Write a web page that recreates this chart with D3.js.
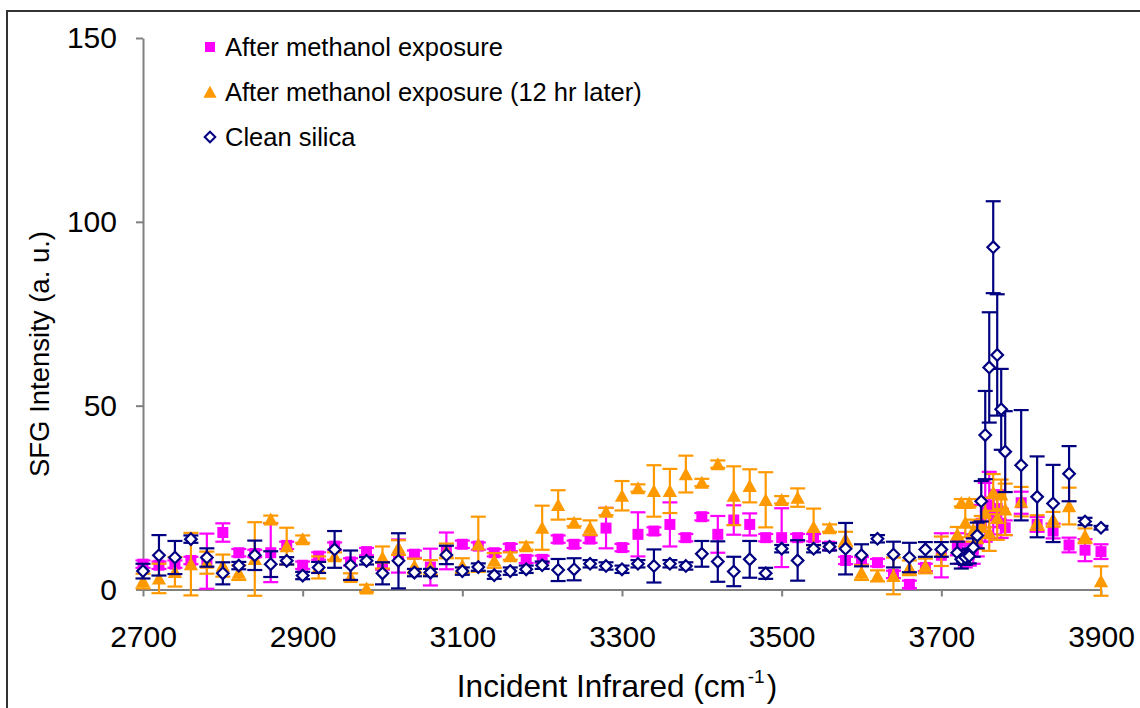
<!DOCTYPE html>
<html>
<head>
<meta charset="utf-8">
<script src="https://cdn.jsdelivr.net/npm/d3@7"></script>
<style>
  body { margin: 0; background: #fff; }
  svg text { font-family: "Liberation Sans", Arial, sans-serif; fill: #000; }
</style>
</head>
<body>
<svg id="chart"></svg>
<script>
// wavenumbers (cm-1), 20 cm-1 steps, 5 cm-1 steps across the free OH peak
const wavenumber = [
  2700, 2720, 2740, 2760, 2780, 2800, 2820, 2840, 2860, 2880,
  2900, 2920, 2940, 2960, 2980, 3000, 3020, 3040, 3060, 3080,
  3100, 3120, 3140, 3160, 3180, 3200, 3220, 3240, 3260, 3280,
  3300, 3320, 3340, 3360, 3380, 3400, 3420, 3440, 3460, 3480,
  3500, 3520, 3540, 3560, 3580, 3600, 3620, 3640, 3660, 3680,
  3700, 3720, 3725, 3730, 3735, 3740, 3745, 3750, 3755, 3760,
  3765, 3770, 3775, 3780, 3800, 3820, 3840, 3860, 3880, 3900
];

// After methanol exposure
const afterExposure = [
  6.9, 6.6, 6.9, 7.9, 7.7, 15.5, 10.0, 9.8, 10.0, 12.0,
  6.6, 9.1, 11.8, 7.5, 10.3, 6.4, 9.1, 9.6, 6.1, 10.5,
  12.3, 11.8, 10.0, 11.4, 8.2, 8.2, 13.7, 12.3, 13.7, 16.7,
  11.4, 15.0, 15.9, 17.7, 14.1, 19.8, 15.0, 18.9, 17.7, 14.1,
  14.1, 14.1, 14.1, 11.8, 7.9, 7.8, 7.3, 4.1, 1.4, 6.0,
  9.3, 12.3, 10.0, 9.0, 9.5, 11.0, 13.0, 18.0, 21.0, 23.0,
  20.0, 22.0, 18.0, 16.8, 23.6, 17.7, 15.9, 12.1, 10.7, 10.3
];
const afterExposureErr = [
  1, 1, 1, 1, 7.5, 2.5, 1, 1, 8, 1,
  1, 1, 1, 1, 1, 1, 4.5, 1, 5, 5,
  1, 1, 1, 1, 1, 1, 1, 1, 1, 5.5,
  1, 6, 1, 6, 1, 1, 5, 4, 3, 1,
  8, 1, 1, 1, 1, 1, 1, 1, 1, 1,
  6, 3, 3, 3, 3, 4, 4, 5, 8, 9,
  5, 5, 4, 2, 3, 2, 2, 2, 3, 2
];

// After methanol exposure (12 hr later)
const after12hr = [
  2.3, 3.0, 4.8, 6.9, 7.3, 6.5, 4.6, 8.3, 19.1, 11.8,
  13.7, 6.0, 9.1, 3.4, 0.3, 8.7, 11.4, 6.4, 6.0, 10.5,
  6.5, 12.3, 7.9, 9.1, 11.8, 16.8, 23.0, 18.2, 16.8, 21.2,
  25.5, 27.6, 26.8, 26.8, 31.4, 29.1, 34.1, 25.5, 28.2, 24.4,
  24.4, 25.0, 17.0, 16.7, 13.7, 4.6, 3.7, 3.7, 5.9, 6.4,
  10.4, 15.0, 23.6, 18.2, 23.6, 16.0, 14.0, 17.0, 20.9, 15.5,
  26.4, 19.5, 25.9, 21.8, 23.9, 18.2, 19.1, 22.7, 14.6, 2.3
];
const after12hrErr = [
  2, 4, 4, 8.5, 3, 3, 2, 10, 1, 5,
  1, 3, 1, 1, 1, 3, 2, 2, 2, 2,
  2, 7.5, 2, 1, 1, 6, 4, 1, 2, 1,
  4, 1, 7, 6, 5, 1, 1, 8, 4.5, 7.5,
  1, 2.5, 5, 1, 2, 2, 1.5, 5, 2, 2,
  4, 2, 1, 4, 1, 3, 3, 3, 4, 5,
  5, 6, 4, 7, 4, 2, 2, 5, 2, 4
];

// Clean silica
const cleanSilica = [
  5.0, 9.3, 8.7, 13.7, 8.7, 4.4, 6.5, 9.3, 6.9, 7.8,
  3.8, 6.0, 10.9, 6.6, 7.8, 4.4, 7.8, 4.6, 4.6, 9.4,
  5.0, 6.1, 3.9, 5.0, 5.5, 6.6, 5.3, 5.5, 7.0, 6.4,
  5.5, 7.0, 6.4, 7.0, 6.4, 9.7, 7.6, 4.9, 8.2, 4.4,
  11.1, 7.9, 11.1, 11.6, 11.1, 9.3, 13.8, 9.5, 8.7, 10.9,
  10.9, 10.0, 8.2, 8.7, 9.1, 11.4, 14.7, 24.0, 42.0, 60.4,
  93.1, 63.8, 49.0, 37.5, 33.8, 25.2, 23.4, 31.5, 18.5, 16.8
];
const cleanSilicaErr = [
  2, 5.5, 4.5, 1, 2.5, 3, 1, 4, 3.5, 1,
  1, 1.5, 5, 4, 1, 3, 7.5, 1, 1, 2.5,
  1, 1, 1, 1, 1, 1, 3, 3, 1, 1,
  1, 1, 4.5, 1, 1, 3.5, 5.5, 4, 5, 1.5,
  1, 5.5, 1, 1, 7, 3, 1, 3.5, 4, 2,
  2, 3, 2.5, 2, 2, 2.5, 3.5, 5.5, 12, 15,
  12.5, 16.5, 11, 11, 15, 11, 10.5, 7.5, 1, 0.5
];

const seriesNames = ["After methanol exposure", "After methanol exposure (12 hr later)", "Clean silica"];
const xTicks = [2700, 2900, 3100, 3300, 3500, 3700, 3900];
const yTicks = [0, 50, 100, 150];

const W = 1140, H = 708;
let margin = {top: 38, right: 39, bottom: 119, left: 143},
    width = W - margin.left - margin.right,
    height = H - margin.top - margin.bottom;

let svg0 = d3.select("#chart").attr("width", W).attr("height", H);

// outer frame (only top and left edges fall inside the picture)
svg0.append("rect")
    .attr("x", 7).attr("y", 11)
    .attr("width", W + 20).attr("height", H + 20)
    .attr("fill", "none").attr("stroke", "#333").attr("stroke-width", 2);

let svg = svg0.append("g")
    .attr("transform", "translate(" + margin.left + "," + margin.top + ")");

let x = d3.scaleLinear().domain([2700, 3900]).range([0, width]);
let y = d3.scaleLinear().domain([0, 150]).range([height + 0.5, 0]);

// axes
let xAxis = svg.append("g")
    .attr("transform", "translate(0," + (height + 0.5) + ")")
    .call(d3.axisBottom(x).tickValues(xTicks).tickFormat(d3.format("d"))
        .tickSize(7).tickPadding(29).tickSizeOuter(0));
let yAxis = svg.append("g")
    .call(d3.axisLeft(y).tickValues(yTicks).tickFormat(d3.format("d"))
        .tickSize(7).tickPadding(19).tickSizeOuter(0));

[xAxis, yAxis].forEach(function(a) {
    a.selectAll("path, line").attr("stroke", "#808080").attr("stroke-width", 2);
    a.selectAll("text").attr("font-size", "30px").attr("font-family", "Liberation Sans, Arial, sans-serif");
});

// axis titles
svg0.append("text")
    .attr("transform", "translate(49,354) rotate(-90)")
    .attr("text-anchor", "middle")
    .attr("font-size", "27.5px")
    .text("SFG Intensity (a. u.)");

let xt = svg0.append("text")
    .attr("x", 617).attr("y", 697)
    .attr("text-anchor", "middle")
    .attr("font-size", "31.5px");
xt.append("tspan").text("Incident Infrared (cm");
xt.append("tspan").attr("font-size", "19px").attr("dy", -14).attr("dx", 2).text("-1");
xt.append("tspan").attr("dy", 14).attr("dx", 2).text(")");

// marker shapes
function squarePath(s) { return "M" + (-s) + "," + (-s) + "H" + s + "V" + s + "H" + (-s) + "Z"; }
function trianglePath(s) { return "M0," + (-s) + "L" + (s * 1.05) + "," + (s * 0.9) + "L" + (-s * 1.05) + "," + (s * 0.9) + "Z"; }
function diamondPath(s) { return "M0," + (-s) + "L" + s + ",0L0," + s + "L" + (-s) + ",0Z"; }

const series = [
    {name: seriesNames[0], vals: afterExposure, err: afterExposureErr, color: "#ff00ff", shape: squarePath, size: 5.5, fill: "#ff00ff"},
    {name: seriesNames[1], vals: after12hr, err: after12hrErr, color: "#ff9900", shape: trianglePath, size: 6.8, fill: "#ff9900"},
    {name: seriesNames[2], vals: cleanSilica, err: cleanSilicaErr, color: "#000080", shape: diamondPath, size: 5.8, fill: "#fff"}
];

const cap = 7.5;

series.forEach(function(s) {
    let pts = wavenumber.map(function(w, i) { return {x: w, y: s.vals[i], e: s.err[i]}; });
    let g = svg.append("g");

    // error bars
    let eb = g.selectAll(".eb").data(pts).enter().append("g")
        .attr("stroke", s.color).attr("stroke-width", 2.2);
    eb.append("line")
        .attr("x1", function(d) { return x(d.x); }).attr("x2", function(d) { return x(d.x); })
        .attr("y1", function(d) { return y(d.y + d.e); }).attr("y2", function(d) { return y(d.y - d.e); });
    eb.append("line")
        .attr("x1", function(d) { return x(d.x) - cap; }).attr("x2", function(d) { return x(d.x) + cap; })
        .attr("y1", function(d) { return y(d.y + d.e); }).attr("y2", function(d) { return y(d.y + d.e); });
    eb.append("line")
        .attr("x1", function(d) { return x(d.x) - cap; }).attr("x2", function(d) { return x(d.x) + cap; })
        .attr("y1", function(d) { return y(d.y - d.e); }).attr("y2", function(d) { return y(d.y - d.e); });

    // markers
    g.selectAll(".pt").data(pts).enter().append("path")
        .attr("d", s.shape(s.size))
        .attr("transform", function(d) { return "translate(" + x(d.x) + "," + y(d.y) + ")"; })
        .attr("fill", s.fill)
        .attr("stroke", s.fill === "#fff" ? s.color : "none")
        .attr("stroke-width", 2.2);
});

// legend
let legend = svg0.append("g").attr("transform", "translate(210,47)");
series.forEach(function(s, i) {
    let row = legend.append("g").attr("transform", "translate(0," + (i * 45) + ")");
    row.append("path")
        .attr("d", s.shape(s.size - 0.5))
        .attr("fill", s.fill)
        .attr("stroke", s.fill === "#fff" ? s.color : "none")
        .attr("stroke-width", 2);
    row.append("text")
        .attr("x", 15).attr("y", 9)
        .attr("font-size", "25.5px")
        .text(s.name);
});
</script>
</body>
</html>
